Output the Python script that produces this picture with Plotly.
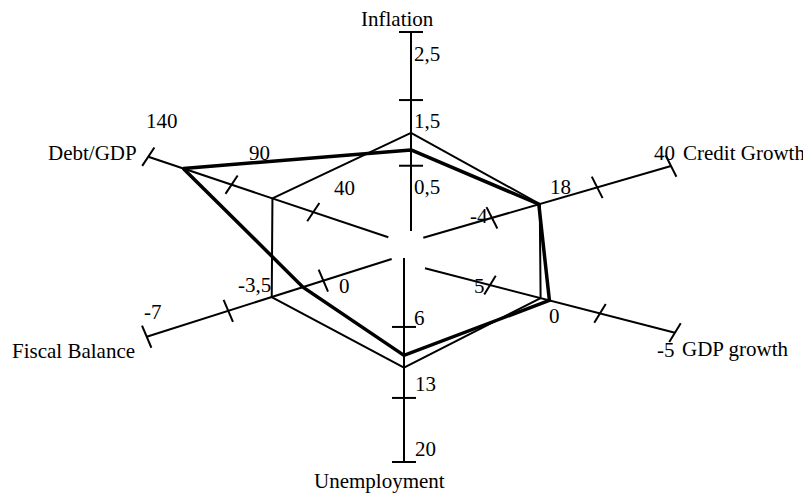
import numpy as np
import plotly.graph_objects as go

# ---------------- data ----------------
categories = ["Inflation", "Credit Growth", "GDP growth", "Unemployment", "Fiscal Balance", "Debt/GDP"]
series_thin = [1.0, 6.0, 2.7, 10.0, -1.9, 65.0]
series_thick = [0.74, 5.8, 2.3, 8.8, -0.75, 119.0]
tick_values = [[0.5, 1.5, 2.5], [-4, 18, 40], [5, 0, -5], [6, 13, 20], [0, -3.5, -7], [40, 90, 140]]
tick_labels = [["0,5", "1,5", "2,5"], ["-4", "18", "40"], ["5", "0", "-5"],
               ["6", "13", "20"], ["0", "-3,5", "-7"], ["40", "90", "140"]]

# ---------------- layout geometry (pixel space of the 811x498 window) ----------------
W, H = 811, 498
PAD = 8  # default page body margin
GEOM = [
    dict(inner=(411, 231), outer=(411, 32), fracs=[0.328, 0.658, 1.0], tick=(1, 0), half=12,
         lab_off=[(16, 21), (16, 21), (16, 22)],
         title=(397, 19, "center")),
    dict(inner=(423.3, 237.7), outer=(671, 166), fracs=[0.277, 0.702, 1.0], tick=(0.45, 0.89), half=12,
         lab_off=[(-13, -2), (-37, 0), (-7, -13)],
         title=(681, 153, "left")),
    dict(inner=(425, 268.3), outer=(675, 332.7), fracs=[0.26, 0.70, 1.0], tick=(0.52, -0.85), half=11,
         lab_off=[(-11, 1), (-46, 3), (-9, 17)],
         title=(680, 349, "left")),
    dict(inner=(404, 258), outer=(404, 462), fracs=[0.338, 0.686, 1.0], tick=(1, 0), half=12,
         lab_off=[(15, -9), (21, -14), (21, -13)],
         title=(379, 481, "center")),
    dict(inner=(391.7, 259), outer=(146.7, 336.7), fracs=[0.279, 0.667, 1.0], tick=(0.39, 0.92), half=12,
         lab_off=[(21, 5), (26, -26), (6, -25)],
         title=(137, 351, "right")),
    dict(inner=(388.3, 237.3), outer=(148.3, 156.7), fracs=[0.3125, 0.653, 1.0], tick=(0.55, -0.83), half=11,
         lab_off=[(31, -24), (28, -32), (14, -36)],
         title=(139, 153, "right")),
]

FONT = dict(family="Liberation Serif, Times New Roman, serif", size=21, color="black")


def to_xy(i, v):
    g = GEOM[i]
    vals = list(tick_values[i])
    fr = list(g["fracs"])
    if vals[0] > vals[-1]:
        vals, fr = vals[::-1], fr[::-1]
    t = float(np.interp(v, vals, fr))
    (x0, y0), (x1, y1) = g["inner"], g["outer"]
    return x0 + t * (x1 - x0), y0 + t * (y1 - y0)


fig = go.Figure()

# axis lines
ax_x, ax_y = [], []
for g in GEOM:
    ax_x += [g["inner"][0], g["outer"][0], None]
    ax_y += [g["inner"][1], g["outer"][1], None]
fig.add_trace(go.Scatter(x=ax_x, y=ax_y, mode="lines", line=dict(color="black", width=2),
                         hoverinfo="skip", showlegend=False))

# tick marks and tick labels
tk_x, tk_y = [], []
for i, g in enumerate(GEOM):
    dx, dy = g["tick"]
    n = (dx ** 2 + dy ** 2) ** 0.5
    dx, dy = dx / n * g["half"], dy / n * g["half"]
    for j, v in enumerate(tick_values[i]):
        px, py = to_xy(i, v)
        tk_x += [px - dx, px + dx, None]
        tk_y += [py - dy, py + dy, None]
        ox, oy = g["lab_off"][j]
        fig.add_annotation(x=px + ox, y=py + oy, text=tick_labels[i][j], showarrow=False,
                           xanchor="center", yanchor="middle", font=FONT)
    tx, ty, anc = g["title"]
    fig.add_annotation(x=tx, y=ty, text=categories[i], showarrow=False,
                       xanchor=anc, yanchor="middle", font=FONT)
fig.add_trace(go.Scatter(x=tk_x, y=tk_y, mode="lines", line=dict(color="black", width=2),
                         hoverinfo="skip", showlegend=False))


# data polygons
def poly(vals):
    pts = [to_xy(i, v) for i, v in enumerate(vals)]
    pts.append(pts[0])
    return [p[0] for p in pts], [p[1] for p in pts]


x1, y1 = poly(series_thin)
fig.add_trace(go.Scatter(x=x1, y=y1, mode="lines", line=dict(color="black", width=2),
                         name="thin", showlegend=False))
x2, y2 = poly(series_thick)
fig.add_trace(go.Scatter(x=x2, y=y2, mode="lines", line=dict(color="black", width=3.5),
                         name="thick", showlegend=False))

fig.update_layout(
    width=W - PAD, height=H - PAD,
    margin=dict(l=0, r=0, t=0, b=0),
    paper_bgcolor="white", plot_bgcolor="white",
    xaxis=dict(range=[PAD, W], visible=False, fixedrange=True),
    yaxis=dict(range=[H, PAD], visible=False, fixedrange=True),
    showlegend=False,
)

fig.write_html("out.html", config=dict(displayModeBar=False))
